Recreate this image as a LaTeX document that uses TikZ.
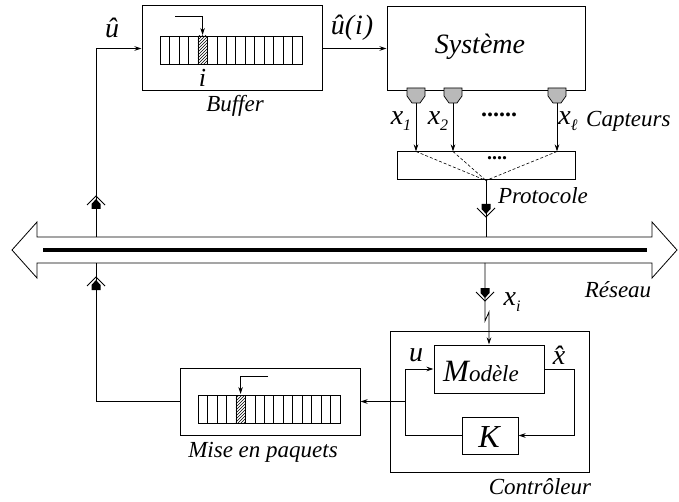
\documentclass[tikz,border=0pt]{standalone}
\usepackage{fontspec}
\setmainfont{Liberation Serif}
\usetikzlibrary{arrows.meta,patterns}
\definecolor{sensorgray}{RGB}{185,185,185}
\newcommand\sbs[1]{\raisebox{-0.45ex}{\fontsize{16}{16}\selectfont #1}}
\tikzset{
  box/.style={draw, line width=1pt, inner sep=0pt},
  conn/.style={line width=0.8pt},
  arr/.style={conn,-{Stealth[length=7pt,width=4.5pt]}},
  cell/.style={line width=0.5pt},
  lab/.style={font=\fontsize{23}{23}\selectfont\itshape, inner sep=0pt},
  mlab/.style={font=\fontsize{28}{28}\selectfont\itshape, inner sep=0pt},
  dotlab/.style={font=\fontsize{24}{24}\selectfont\bfseries, inner sep=0pt},
  plugdown/.pic={
    \fill (-4.5,0) -- (4.5,0) -- (4.5,5) -- (0,10) -- (-4.5,5) -- cycle;
    \draw[line width=0.8pt] (-9,4) -- (0,13) -- (9,4);
  },
}
\begin{document}
\begin{tikzpicture}[x=1pt,y=-1pt]
\useasboundingbox (0,0) rectangle (679,502);
% network bus
\draw[line width=0.8pt, fill=white] (12,250) -- (37,222) -- (37,237) -- (652,237) -- (652,222) -- (677,250) -- (652,278) -- (652,263) -- (37,263) -- (37,278) -- cycle;
\draw[line width=4pt] (43,250) -- (647,250);
\coordinate (busTL) at (96,237);
\coordinate (busBL) at (96,263);
\coordinate (busTR) at (486,237);
\coordinate (busBR) at (485,263);
\node[lab] (reseau) at (618,290) {Réseau};

% buffer
\node[box, minimum width=180, minimum height=85] (buf) at (232,48.5) {};
\foreach \k in {0,...,14} \draw[cell] ({160+\k*9.4667},36) rectangle ++(9.4667,28);
\fill[pattern=north east lines] (197.87,36) rectangle ++(9.4667,28);
\draw[cell] (197.87,36) rectangle ++(9.4667,28);
\coordinate (ba1) at (175,16);
\coordinate (ba2) at (202.6,16);
\coordinate (ba3) at (202.6,35);
\draw[arr] (ba1) -- (ba2) -- (ba3);
\node[mlab, font=\fontsize{26}{26}\selectfont\itshape] (itxt) at (202.6,78) {i};
\node[lab] (buftxt) at (235,106) {Buffer};

% system
\node[box, minimum width=198, minimum height=84] (sys) at (486,48.5) {};
\node[inner sep=0pt, font=\fontsize{28}{28}\selectfont\itshape] (systxt) at (480,47) {Système};
\draw[arr] (buf.east) -- (sys.west);
\node[mlab] (uhat) at (112,28) {û};
\node[mlab] (uhati) at (352,28) {û(\kern1pt i\kern1pt)};

% protocol
\node[box, minimum width=178, minimum height=28] (proto) at (486,166) {};
\node[dotlab, font=\fontsize{20}{20}\selectfont\bfseries] (pdots) at (497,158) {....};
\foreach \n/\cx in {1/416,2/453,3/557} {
  \draw[fill=sensorgray, line width=0.7pt] (\cx-9,88) -- (\cx+9,88) -- (\cx+9,96) -- (\cx+4,103) -- (\cx-4,103) -- (\cx-9,96) -- cycle;
  \coordinate (s\n) at (\cx,103);
  \draw[arr] (s\n) -- (s\n |- proto.north);
  \draw[dashed, dash pattern=on 3pt off 2pt, line width=0.6pt] (s\n |- proto.north) -- (proto.south);
}
\node[mlab] (x1) at (401,121) {x\sbs{1}};
\node[mlab] (x2) at (438,121) {x\sbs{2}};
\node[mlab] (xl) at (568,121) {x\sbs{ℓ}};
\node[dotlab] (sdots) at (499,115) {......};
\node[lab, anchor=west] (capt) at (586,121) {Capteurs};
\node[lab] (prottxt) at (543,196) {Protocole};
\draw[conn] (proto.south) -- (busTR);
\pic at (486,204) {plugdown};

% left link: network -> buffer
\coordinate (ucorner) at (96,48.5);
\draw[conn] (busTL) -- (ucorner);
\draw[arr] (ucorner) -- (buf.west);
\pic[rotate=180] at (96,209) {plugdown};

% controller
\node[box, minimum width=199, minimum height=141] (ctrl) at (489.5,401.5) {};
\node[box, minimum width=110, minimum height=48] (model) at (489,369) {};
\node[box, minimum width=56, minimum height=37] (K) at (490,435.5) {};
\node[inner sep=0pt] (modtxt) at (481,371) {\itshape\fontsize{31}{31}\selectfont M\fontsize{23}{23}\selectfont odèle};
\node[inner sep=0pt, font=\fontsize{32}{32}\selectfont\itshape] (ktxt) at (489,437) {K};
\node[lab] (ctrltxt) at (540,487) {Contrôleur};
\coordinate (xr) at (574,369);
\coordinate (xrd) at (574,435.5);
\draw[arr] (model.east) -- (xr) -- (xrd) -- (K.east);
\coordinate (kl) at (405,435.5);
\coordinate (ul) at (405,369);
\draw[arr] (K.west) -- (kl) -- (ul) -- (model.west);
\node[mlab] (utxt) at (416,355) {u};
\node[mlab] (xhat) at (559,355) {\^{x}};

% network -> controller
\coordinate (zz1) at (485,321);
\coordinate (zz2) at (489,312);
\draw[arr] (busBR) -- (zz1) -- (zz2) -- (model.north);
\pic at (485,288) {plugdown};
\node[mlab] (xi) at (512,302) {x\sbs{\textit{i}}};

% packetizer
\node[box, minimum width=180, minimum height=67] (mise) at (270,401.5) {};
\foreach \k in {0,...,14} \draw[cell] ({198+\k*9.4667},395) rectangle ++(9.4667,28);
\fill[pattern=north east lines] (235.87,395) rectangle ++(9.4667,28);
\draw[cell] (235.87,395) rectangle ++(9.4667,28);
\coordinate (ma1) at (268,376);
\coordinate (ma2) at (240.6,376);
\coordinate (ma3) at (240.6,394);
\draw[arr] (ma1) -- (ma2) -- (ma3);
\node[lab] (misetxt) at (263,452) {Mise en paquets};
\coordinate (jn) at (405,401.5);
\draw[arr] (jn) -- (mise.east);
\coordinate (mcorner) at (96,401.5);
\draw[conn] (mise.west) -- (mcorner) -- (busBL);
\pic[rotate=180] at (96,290) {plugdown};
\end{tikzpicture}
\end{document}
